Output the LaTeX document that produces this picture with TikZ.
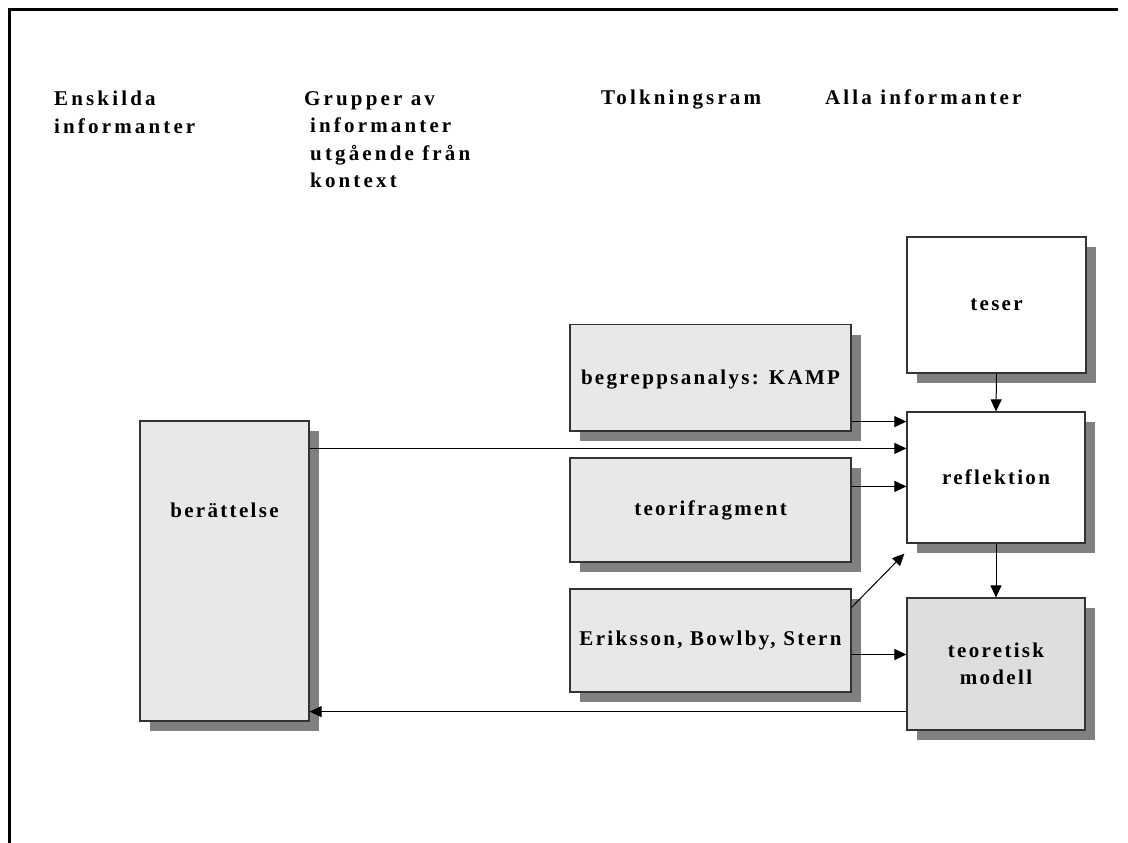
\documentclass[tikz,border=0pt]{standalone}
\usepackage{fontspec}
\setmainfont{Liberation Serif}[LetterSpace=11]
\usepackage{tikz}
\usetikzlibrary{arrows.meta,shadows}

\begin{document}
\begin{tikzpicture}[
  x=1pt,y=-1pt,
  font=\fontsize{21}{27.5}\selectfont\bfseries,
  box/.style={draw=black!80,line width=1.2pt,fill=#1,minimum width=281pt,minimum height=104pt,align=center,
    drop shadow={shadow xshift=10pt,shadow yshift=-10pt,fill=black!50,opacity=1}},
  box/.default=white,
  arr/.style={-{Triangle[length=12pt,width=11pt]},line width=1pt},
  head/.style={anchor=base west,inner sep=0pt,align=left,font=\fontsize{21}{27.5}\selectfont\bfseries\addfontfeatures{LetterSpace=15}},
  frame/.style={line width=3pt}
]
\useasboundingbox (0,0) rectangle (1128,843);
\draw[frame] (9.5,843) -- (9.5,9.5) -- (1118,9.5);

% column heads (base = last line)
\node[head] (h1) at (54,133) {Enskilda\\informanter};
\node[head] (h2) at (304,187.5) {Grupper av\\\hspace*{6pt}informanter\\\hspace*{6pt}utgående från\\\hspace*{6pt}kontext};
\node[head] (h3) at (601,105) {Tolkningsram};
\node[head] (h4) at (825,105) {Alla informanter};

% boxes
\node[box] (teser) at (996.5,305) [minimum width=179pt,minimum height=136pt] {teser};
\node[box=black!9] (begr) at (710.5,377.75) [minimum height=106.5pt,text depth=2pt] {begreppsanalys: KAMP};
\node[box] (refl) at (996,477.5) [minimum width=178pt,minimum height=131pt] {reflektion};
\node[box=black!9] (teori) at (710.5,510) {teorifragment};
\node[box=black!9] (erik) at (710.5,640.5) [minimum height=103pt] {Eriksson, Bowlby, Stern};
\node[box=black!13] (modell) at (996,664) [minimum width=178pt,minimum height=132pt] {teoretisk\\modell};
\node[box=black!9] (ber) at (224.5,571) [minimum width=169pt,minimum height=300pt] {};
\node (bertext) at (224.5,510) {berättelse};

% connectors
\draw[arr] (teser.south) -- (refl.north);
\draw[arr] ([yshift=10pt]begr.south east) -- ([yshift=10pt]begr.south east -| refl.west);
\draw[arr] ([yshift=-28pt]ber.north east) -- ([yshift=-28pt]ber.north east -| refl.west);
\draw[arr] ([yshift=-29pt]teori.north east) -- ([yshift=-29pt]teori.north east -| refl.west);
\draw[arr] ([yshift=-19pt]erik.north east) -- ([xshift=-2pt,yshift=-10pt]refl.south west);
\draw[arr] (refl.south) -- (modell.north);
\draw[arr] ([yshift=-14pt]erik.east) -- ([yshift=-14pt]erik.east -| modell.west);
\draw[arr] ([yshift=19pt]modell.south west) -- ([yshift=19pt]modell.south west -| ber.east);
\end{tikzpicture}
\end{document}
